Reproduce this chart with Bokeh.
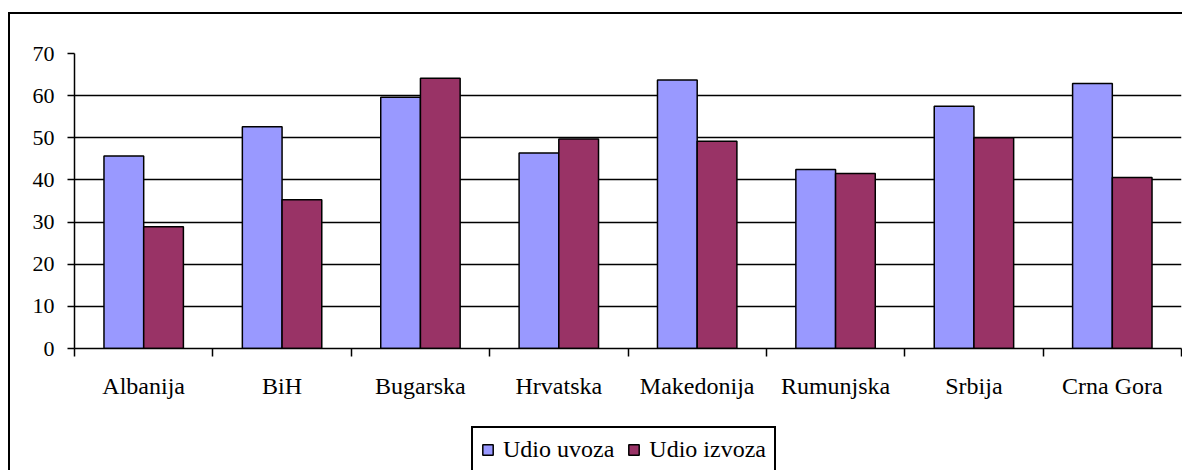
from bokeh.plotting import figure
from bokeh.models import Range1d, FixedTicker, ColumnDataSource
from bokeh.layouts import column
from bokeh.transform import dodge
from bokeh.embed import file_html
from bokeh.resources import INLINE

categories = ["Albanija", "BiH", "Bugarska", "Hrvatska", "Makedonija", "Rumunjska", "Srbija", "Crna Gora"]
udio_uvoza = [45.7, 52.6, 59.6, 46.4, 63.7, 42.5, 57.5, 62.9]
udio_izvoza = [28.9, 35.3, 64.1, 49.7, 49.2, 41.5, 50.0, 40.6]
y_ticks = [0, 10, 20, 30, 40, 50, 60, 70]
series_names = ["Udio uvoza", "Udio izvoza"]
series_colors = ["#9999FF", "#993366"]

FONT = "Liberation Serif"

centers = [i + 0.5 for i in range(len(categories))]
src = ColumnDataSource(dict(x=centers, uvoz=udio_uvoza, izvoz=udio_izvoza, cat=categories))

p = figure(width=1174, height=406, output_backend="svg", toolbar_location=None,
           x_range=Range1d(0, len(categories)), y_range=Range1d(0, 70),
           min_border_left=64, min_border_right=3, min_border_top=39, min_border_bottom=72)
p.outline_line_color = None
p.background_fill_color = "white"
p.border_fill_color = "white"
p.styles = {"border-left": "2px solid black", "border-top": "2px solid black",
            "margin-left": "8px", "margin-top": "12px"}

bw = 0.287
p.vbar(x=dodge("x", -bw / 2, range=p.x_range), top="uvoz", width=bw, source=src,
       fill_color=series_colors[0], line_color="black", line_width=1.5)
p.vbar(x=dodge("x", bw / 2, range=p.x_range), top="izvoz", width=bw, source=src,
       fill_color=series_colors[1], line_color="black", line_width=1.5)

# x axis: ticks at category boundaries, labels at centers
xa = p.xaxis[0]
xa.ticker = FixedTicker(ticks=centers, minor_ticks=list(range(len(categories) + 1)))
xa.major_label_overrides = {c: name for c, name in zip(centers, categories)}
xa.major_tick_out = 0
xa.major_tick_in = 0
xa.minor_tick_out = 8
xa.minor_tick_in = 0
xa.minor_tick_line_color = "black"
xa.minor_tick_line_width = 1.5
xa.axis_line_color = "black"
xa.axis_line_width = 1.5
xa.major_label_standoff = 16
xa.major_label_text_font = FONT
xa.major_label_text_font_size = "24px"
xa.major_label_text_color = "black"

ya = p.yaxis[0]
ya.ticker = FixedTicker(ticks=y_ticks)
ya.major_tick_out = 7
ya.major_tick_in = 0
ya.minor_tick_out = 0
ya.minor_tick_in = 0
ya.major_tick_line_color = "black"
ya.major_tick_line_width = 1.5
ya.axis_line_color = "black"
ya.axis_line_width = 1.5
ya.major_label_standoff = 13
ya.major_label_text_font = FONT
ya.major_label_text_font_size = "22px"
ya.major_label_text_color = "black"

p.xgrid.grid_line_color = None
p.ygrid.grid_line_color = "black"
p.ygrid.grid_line_width = 1.5
p.ygrid.ticker = FixedTicker(ticks=y_ticks)

# legend strip below the chart (swatch renderers sit outside the visible range)
lf = figure(width=1174, height=52, output_backend="svg", toolbar_location=None,
            x_range=Range1d(0, 1), y_range=Range1d(0, 1),
            x_axis_location=None, y_axis_location=None,
            min_border_left=0, min_border_right=0, min_border_top=0, min_border_bottom=0)
lf.outline_line_color = None
lf.grid.grid_line_color = None
lf.background_fill_color = "white"
lf.border_fill_color = "white"
lf.styles = {"border-left": "2px solid black", "margin-left": "8px"}
for name, color in zip(series_names, series_colors):
    lf.vbar(x=[0.5], bottom=[-30], top=[-20], width=0.1, fill_color=color, line_color="black",
            line_width=1.5, legend_label=name)

lg = lf.legend[0]
lg.location = (397, -3)
lg.orientation = "horizontal"
lg.border_line_color = "black"
lg.border_line_width = 2
lg.border_line_alpha = 1
lg.background_fill_color = "white"
lg.background_fill_alpha = 1
lg.label_text_font = FONT
lg.label_text_font_size = "24px"
lg.label_text_color = "black"
lg.glyph_width = 13
lg.glyph_height = 13
lg.label_standoff = 9
lg.spacing = 13
lg.padding = 8
lg.margin = 0

layout = column(p, lf, spacing=0)
open("out.html", "w").write(file_html(layout, INLINE))
